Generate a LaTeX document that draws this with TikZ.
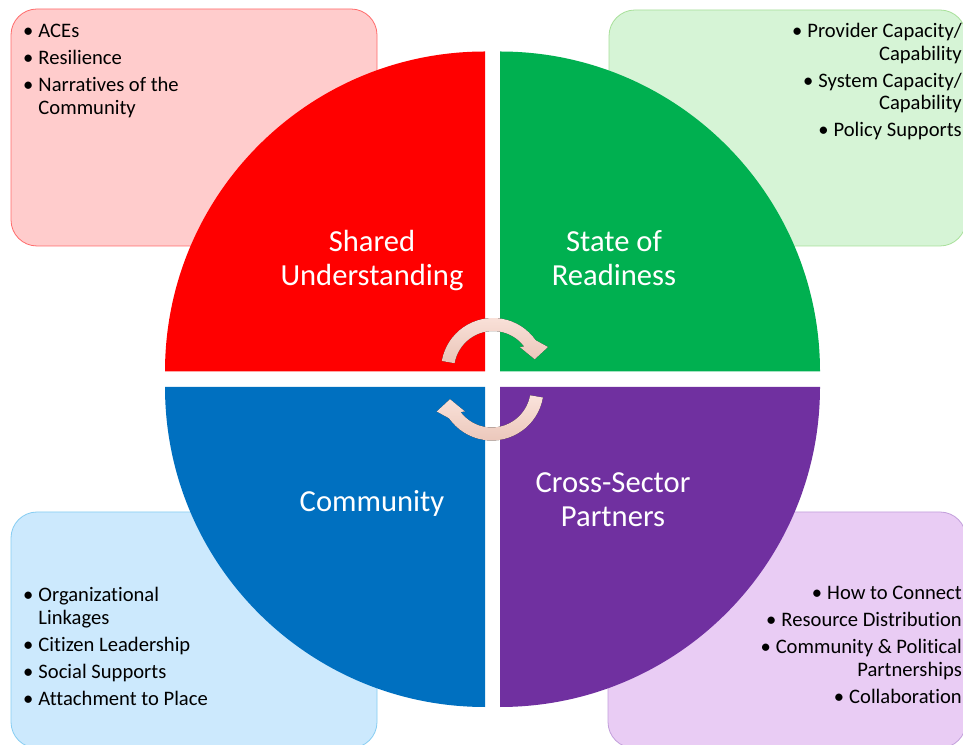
\documentclass[tikz,border=0pt]{standalone}
\usepackage{fontspec}
\setmainfont{Carlito}[Ligatures={NoCommon,NoRare}]
\definecolor{qred}{HTML}{FF0000}
\definecolor{qgreen}{HTML}{00B050}
\definecolor{qblue}{HTML}{0070C0}
\definecolor{qpurple}{HTML}{7030A0}
\definecolor{boxred}{HTML}{FFCCCC}
\definecolor{edgered}{HTML}{FF6B6B}
\definecolor{boxgreen}{HTML}{D6F4D6}
\definecolor{edgegreen}{HTML}{A8E09A}
\definecolor{boxblue}{HTML}{CCE9FD}
\definecolor{edgeblue}{HTML}{86CDF2}
\definecolor{boxpurple}{HTML}{E9CCF4}
\definecolor{edgepurple}{HTML}{C29FDB}
\definecolor{arrowtop}{HTML}{FAE3DB}
\definecolor{arrowbot}{HTML}{EAC5B8}
\begin{document}
\begin{tikzpicture}[x=1pt,y=1pt]
\tikzset{
  infobox/.style={rounded corners=26pt, line width=0.8pt},
  qlabel/.style={text=white, font=\fontsize{30.6}{34}\selectfont, align=center, inner sep=0pt},
  blist/.style={font=\fontsize{20.6}{22.5}\selectfont, inner sep=0pt, text=black},
  cyc/.style={top color=arrowtop, bottom color=arrowbot}
}
\useasboundingbox (0,0) rectangle (963,744);
\clip (0,0) rectangle (963,744);
\fill[white] (0,0) rectangle (963,744);
% info boxes
\draw[infobox, fill=boxred, draw=edgered] (11,735) rectangle (377,498);
\draw[infobox, fill=boxgreen, draw=edgegreen] (609,734) rectangle (966,498);
\draw[infobox, fill=boxblue, draw=edgeblue] (11,232) rectangle (377,-4);
\draw[infobox, fill=boxpurple, draw=edgepurple] (608,232) rectangle (966,-4);
% quadrants
\fill[qred] (485,372.5) -- (165,372.5) arc[start angle=180,end angle=90,radius=320] -- cycle;
\fill[qgreen] (500,372.5) -- (500,692.5) arc[start angle=90,end angle=0,radius=320] -- cycle;
\fill[qblue] (485,357) -- (165,357) arc[start angle=180,end angle=270,radius=320] -- cycle;
\fill[qpurple] (500,357) -- (820,357) arc[start angle=0,end angle=-90,radius=320] -- cycle;
% labels
\node[qlabel] (shared) at (372,483) {Shared\\Understanding};
\node[qlabel] (ready) at (614,486) {State of\\Readiness};
\node[qlabel] (comm) at (372,241) {Community};
\node[qlabel] (cross) at (613,244) {Cross-Sector\\Partners};
% cycle arrows
\fill[cyc, shift={(493,374)}] (170:52) arc[start angle=170,end angle=35,radius=52]
  -- (55,23) -- (41.7,10.7) -- (26.7,23) -- (37:39) arc[start angle=37,end angle=170,radius=39] -- cycle;
\fill[cyc, shift={(491.7,355.5)}, rotate=180] (170:52) arc[start angle=170,end angle=35,radius=52]
  -- (55,23) -- (41.7,10.7) -- (26.7,23) -- (37:39) arc[start angle=37,end angle=170,radius=39] -- cycle;
% lists
\node[blist, anchor=base west] (sulist) at (23,706) {\begin{tabular}[t]{@{}l@{\hspace{5pt}}l@{}}
•&ACEs\\[4.5pt]
•&Resilience\\[4.5pt]
•&Narratives of the\\
 &Community
\end{tabular}};
\node[blist, anchor=base east] (srlist) at (962,706) {\begin{tabular}[t]{@{}r@{}}
•\hspace{5pt}Provider Capacity/\\
Capability\\[4.5pt]
•\hspace{5pt}System Capacity/\\
Capability\\[4.5pt]
•\hspace{5pt}Policy Supports
\end{tabular}};
\node[blist, anchor=base west] (colist) at (23,142) {\begin{tabular}[t]{@{}l@{\hspace{5pt}}l@{}}
•&Organizational\\
 &Linkages\\[4.5pt]
•&Citizen Leadership\\[4.5pt]
•&Social Supports\\[4.5pt]
•&Attachment to Place
\end{tabular}};
\node[blist, anchor=base east] (cslist) at (962,144) {\begin{tabular}[t]{@{}r@{}}
•\hspace{5pt}How to Connect\\[4.5pt]
•\hspace{5pt}Resource Distribution\\[4.5pt]
•\hspace{5pt}Community \& Political\\
Partnerships\\[4.5pt]
•\hspace{5pt}Collaboration
\end{tabular}};
\end{tikzpicture}
\end{document}
